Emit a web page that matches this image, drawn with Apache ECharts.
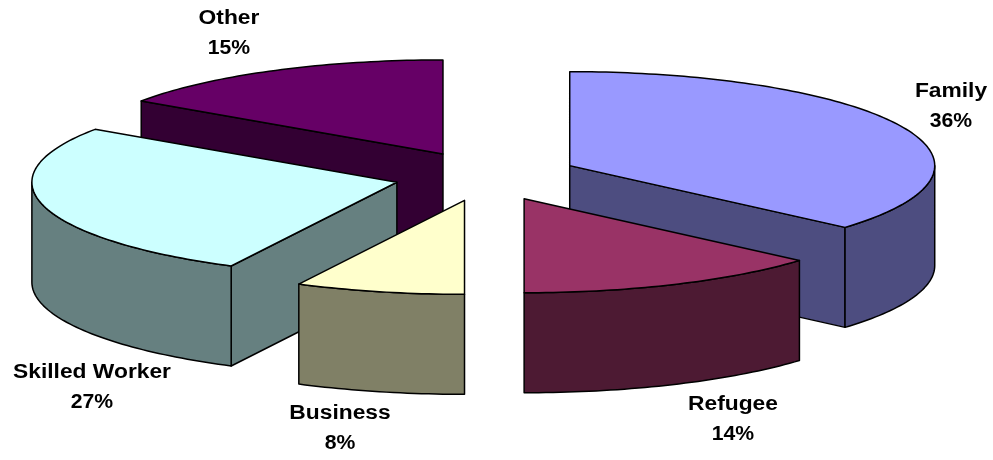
<!DOCTYPE html>
<html>
<head>
<meta charset="utf-8">
<style>html,body{margin:0;padding:0;background:#fff}#c{width:993px;height:460px}</style>
<script src="https://cdn.jsdelivr.net/npm/echarts@6/dist/echarts.min.js"></script>
</head>
<body>
<div id="c"></div>
<script>
const categories = ['Family', 'Refugee', 'Business', 'Skilled Worker', 'Other'];
const shares = [36.4, 13.6, 7.5, 27.01, 15.49];
const percentLabels = ['36%', '14%', '8%', '27%', '15%'];
const topColors = ['#9999FF', '#993366', '#FFFFCC', '#CCFFFF', '#660066'];
const wallColors = ['#4D4D80', '#4D1A33', '#808066', '#668080', '#330033'];
const labelCentres = [[951, 106], [733, 419], [340, 428], [92, 387], [229, 33]];
const paintOrder = [4, 0, 3, 1, 2];

const pie = { cx: 486, cy: 176, rx: 365, ry: 94, depth: 100, explodeX: 92, explodeY: 25 };
const labelStyle = { font: 'bold 20px "Liberation Sans", Arial, sans-serif', nameStretch: 1.14, percentStretch: 1.06, lineGap: 30 };
const total = shares.reduce((a, b) => a + b, 0);
const startAngles = shares.map((_, i) =>
  shares.slice(0, i).reduce((a, b) => a + b, 0) / total * 2 * Math.PI);

function arcPoints(ox, oy, a0, a1, dy) {
  const n = Math.max(2, Math.ceil((a1 - a0) / 0.02));
  const out = [];
  for (let k = 0; k <= n; k++) {
    const a = a0 + (a1 - a0) * k / n;
    out.push([ox + pie.rx * Math.sin(a), oy - pie.ry * Math.cos(a) + dy]);
  }
  return out;
}
function poly(points, fill, z2) {
  return {
    type: 'polygon', z2: z2,
    shape: { points: points },
    style: { fill: fill, stroke: '#000', lineWidth: 1.5, lineJoin: 'round' }
  };
}
function textLine(str, x, y, stretch) {
  return {
    type: 'text', z2: 100, x: x, y: y, scaleX: stretch, scaleY: 1,
    style: {
      x: 0, y: 0, text: str, fill: '#000',
      align: 'center', verticalAlign: 'middle', font: labelStyle.font
    }
  };
}
function renderItem(params, api) {
  const i = api.value(0);
  const a0 = startAngles[i];
  const a1 = a0 + api.value(1) / total * 2 * Math.PI;
  const mid = (a0 + a1) / 2;
  const ox = pie.cx + pie.explodeX * Math.sin(mid);
  const oy = pie.cy - pie.explodeY * Math.cos(mid);
  const d = pie.depth;
  const base = paintOrder.indexOf(i) * 10;
  const children = [];
  // a straight cut face shows when the slice body lies behind (above) it
  [a0, a1].forEach(a => {
    const ex = Math.sin(a), ey = -Math.cos(a);
    if (Math.abs(ex) > 1e-3 && -Math.cos(mid) < ey / ex * Math.sin(mid)) {
      const e = arcPoints(ox, oy, a, a, 0)[0];
      children.push(poly([[ox, oy], e, [e[0], e[1] + d], [ox, oy + d]], wallColors[i], base + 1));
    }
  });
  // outer wall: only the part on the near half of the ellipse
  const w0 = Math.max(a0, Math.PI / 2);
  const w1 = Math.min(a1, Math.PI * 1.5);
  if (w1 > w0) {
    const up = arcPoints(ox, oy, w0, w1, 0);
    const down = arcPoints(ox, oy, w0, w1, d).reverse();
    children.push(poly(up.concat(down), wallColors[i], base + 2));
  }
  children.push(poly([[ox, oy]].concat(arcPoints(ox, oy, a0, a1, 0)), topColors[i], base + 3));
  const c = labelCentres[i];
  children.push(textLine(categories[i], c[0], c[1] - labelStyle.lineGap / 2, labelStyle.nameStretch));
  children.push(textLine(percentLabels[i], c[0], c[1] + labelStyle.lineGap / 2, labelStyle.percentStretch));
  return { type: 'group', children: children };
}

const chart = echarts.init(document.getElementById('c'), null, { renderer: 'canvas' });
chart.setOption({
  animation: false,
  backgroundColor: '#fff',
  series: [{
    type: 'custom',
    coordinateSystem: 'none',
    silent: true,
    renderItem: renderItem,
    data: shares.map((v, i) => [i, v])
  }]
});
</script>
</body>
</html>
